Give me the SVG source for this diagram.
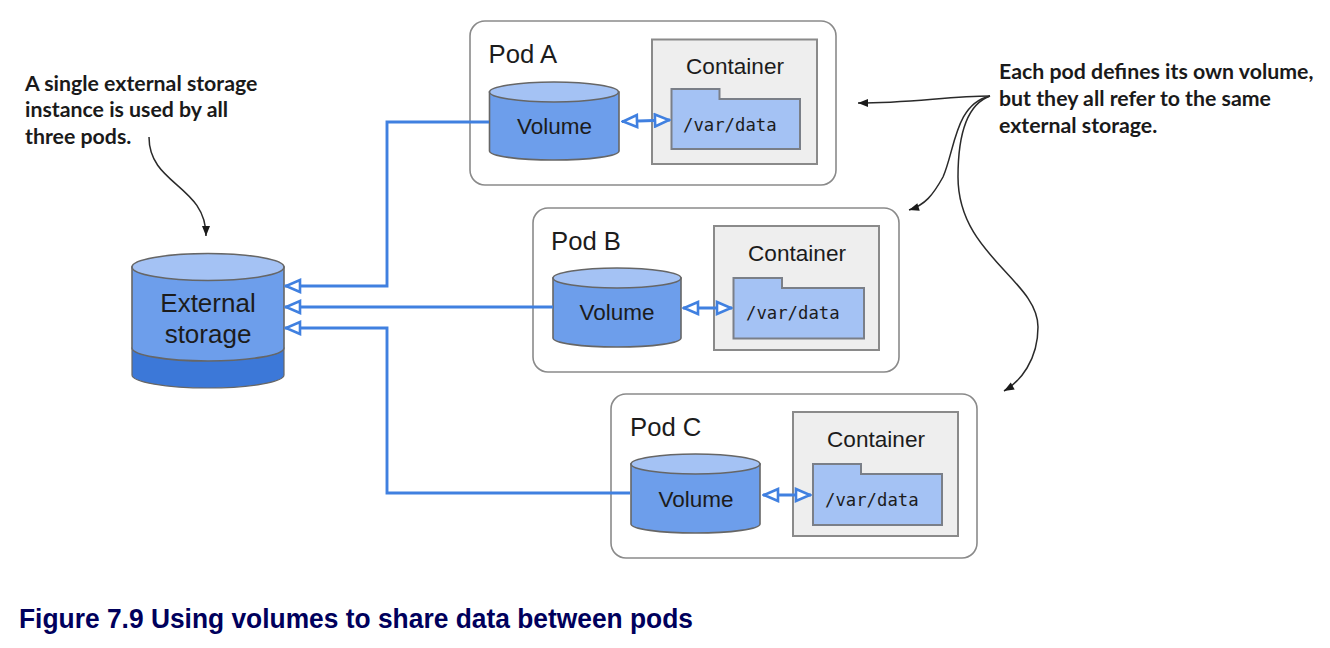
<svg xmlns="http://www.w3.org/2000/svg" width="1330" height="648" viewBox="0 0 1330 648">
<style>
text{font-family:"Liberation Sans",Arial,sans-serif;fill:#1c1c1c}
.pod{fill:#fff;stroke:#8a8a8a;stroke-width:1.6}
.ctr{fill:#eeeeee;stroke:#8a8a8a;stroke-width:2}
.dir{fill:#a4c2f4;stroke:#7a7f88;stroke-width:2}
.cylb{fill:#6d9eeb;stroke:#666;stroke-width:1.6}
.cylt{fill:#a4c2f4;stroke:#666;stroke-width:1.6}
.podt{font-size:25.700px}
.ctrt{font-size:22.600px}
.volt{font-size:22.500px}
.mono{font-family:"DejaVu Sans Mono","Liberation Mono",monospace;font-size:17.300px}
.ext{font-size:26px}
.note{font-family:Lato,"Open Sans",sans-serif;font-weight:700;font-size:21.300px;fill:#1a1a1a}
.cap{font-family:"Liberation Sans Narrow","Liberation Sans",sans-serif;font-weight:700;font-size:28px;fill:#00005c}
.blue{fill:none;stroke:#4080e0;stroke-width:2.900}
.curve{fill:none;stroke:#2a2a2a;stroke-width:1.500}
</style>
<defs>
<marker id="hollow" markerUnits="userSpaceOnUse" markerWidth="18" markerHeight="16" refX="17" refY="8" orient="auto-start-reverse" viewBox="0 0 18 16">
<path d="M2,2 L16,8 L2,14 Z" fill="#fff" stroke="#4080e0" stroke-width="2.600"/>
</marker>
<marker id="solid" markerUnits="userSpaceOnUse" markerWidth="12" markerHeight="10" refX="10.500" refY="5" orient="auto" viewBox="0 0 12 10">
<path d="M0.500,1 L10.500,5 L0.500,9 Z" fill="#1a1a1a"/>
</marker>
</defs>

<g id="pod-a">
<rect class="pod" x="470" y="21" width="366" height="164" rx="15"/>
<text class="podt" x="488.500" y="63">Pod A</text>
<path class="cylb" d="M489.500,92 V151 C489.500,156 518,160 554,160 C590,160 619,156 619,151 V92 Z"/>
<ellipse class="cylt" cx="554" cy="92" rx="64.500" ry="10"/>
<text class="volt" x="554.500" y="134" text-anchor="middle">Volume</text>
<rect class="ctr" x="652" y="39.500" width="165" height="124.500"/>
<text class="ctrt" x="735" y="74" text-anchor="middle">Container</text>
<path class="dir" d="M671.500,89 H719.500 V99 H800 V149 H671.500 Z"/>
<text class="mono" x="683" y="131">/var/data</text>
</g>

<g id="pod-b">
<rect class="pod" x="533" y="208" width="366" height="164" rx="15"/>
<text class="podt" x="551" y="250">Pod B</text>
<path class="cylb" d="M553,278 V338 C553,343 581,347 617,347 C653,347 681,343 681,338 V278 Z"/>
<ellipse class="cylt" cx="617" cy="278" rx="64" ry="10"/>
<text class="volt" x="617" y="320" text-anchor="middle">Volume</text>
<rect class="ctr" x="714" y="226" width="165" height="124"/>
<text class="ctrt" x="797" y="261" text-anchor="middle">Container</text>
<path class="dir" d="M733.500,278 H782 V288 H864 V338.500 H733.500 Z"/>
<text class="mono" x="746" y="319">/var/data</text>
</g>

<g id="pod-c">
<rect class="pod" x="611" y="394" width="366" height="164" rx="15"/>
<text class="podt" x="630" y="436">Pod C</text>
<path class="cylb" d="M631,464 V524 C631,529 660,533 695.500,533 C731,533 760,529 760,524 V464 Z"/>
<ellipse class="cylt" cx="695.500" cy="464" rx="64.500" ry="10"/>
<text class="volt" x="696" y="507" text-anchor="middle">Volume</text>
<rect class="ctr" x="793" y="412" width="165" height="124"/>
<text class="ctrt" x="876" y="447" text-anchor="middle">Container</text>
<path class="dir" d="M813,464 H861 V474 H942 V525 H813 Z"/>
<text class="mono" x="825" y="506">/var/data</text>
</g>

<g id="external-storage">
<path d="M132,348 V375 C132,382 166,388 208,388 C250,388 284,382 284,375 V348 Z" fill="#3c78d8" stroke="#666" stroke-width="1.200"/>
<path class="cylb" d="M132,267 V348 C132,355 166,361 208,361 C250,361 284,355 284,348 V267 Z"/>
<ellipse class="cylt" cx="208" cy="267" rx="76" ry="13.500"/>
<text class="ext" x="208" y="312" text-anchor="middle">External</text>
<text class="ext" x="208" y="343" text-anchor="middle">storage</text>
</g>

<g id="connectors">
<path class="blue" marker-end="url(#hollow)" d="M489,122 H387 V286 H285"/>
<path class="blue" marker-end="url(#hollow)" d="M553,307 H285"/>
<path class="blue" marker-end="url(#hollow)" d="M630,493 H387 V328 H285"/>
<path class="blue" marker-start="url(#hollow)" marker-end="url(#hollow)" d="M622,121.500 L670,120"/>
<path class="blue" marker-start="url(#hollow)" marker-end="url(#hollow)" d="M683,308 L732,308"/>
<path class="blue" marker-start="url(#hollow)" marker-end="url(#hollow)" d="M763,495 L811,495"/>
<path class="curve" marker-end="url(#solid)" d="M990,96 C950,96 910,103 858,103"/>
<path class="curve" marker-end="url(#solid)" d="M990,96 C955,104 955,150 943,177 C933,195 925,205 909,210"/>
<path class="curve" marker-end="url(#solid)" d="M990,96 C965,105 958,140 958,177 C958,255 1038,280 1038,327 C1038,360 1020,382 1004,391"/>
<path class="curve" marker-end="url(#solid)" d="M149,137 C149,185 206,185 206,236"/>
</g>

<g id="notes">
<text class="note" x="25" y="90.500">A single external storage</text>
<text class="note" x="25" y="117">instance is used by all</text>
<text class="note" x="25" y="144">three pods.</text>
<text class="note" x="999" y="79">Each pod defines its own volume,</text>
<text class="note" x="999" y="106">but they all refer to the same</text>
<text class="note" x="999" y="132.500">external storage.</text>
</g>
<text class="cap" x="19" y="628" textLength="674" lengthAdjust="spacingAndGlyphs">Figure 7.9 Using volumes to share data between pods</text>
</svg>
